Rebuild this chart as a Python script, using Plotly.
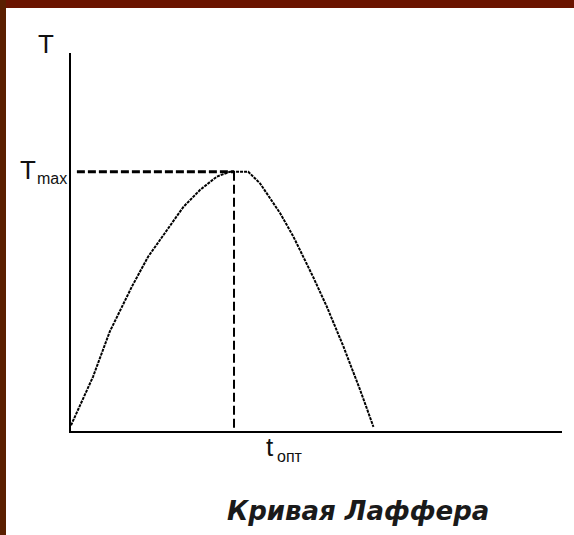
import plotly.graph_objects as go

# Laffer curve, values (x: tax rate, y: revenue, both on a 0-100 scale)
tax_rate = [0, 4.5, 7.9, 12.4, 15.7, 19.5, 22.9, 26.3, 29.7, 32.4, 36.1, 38.5, 42.6, 45.3, 49.3, 52.1, 55.5, 58.9, 61.6]
revenue = [1.5, 14.4, 26.3, 38.2, 46.1, 53.2, 59.3, 63.8, 67.3, 68.6, 68.6, 65.5, 57.6, 51.4, 40.8, 32.9, 22.3, 10.8, 1.1]
t_opt = 33.2
t_max = 68.6
dash_start = 1.2

W, H = 574, 535


def px(x):
    return x / W


def py(y):
    return 1 - y / H


fig = go.Figure()
fig.add_trace(go.Scatter(x=tax_rate, y=revenue, mode='lines',
                         line=dict(color='black', width=2, dash='3px,1px'), showlegend=False))
fig.add_trace(go.Scatter(x=[dash_start, t_opt], y=[t_max, t_max], mode='lines',
                         line=dict(color='black', width=3, dash='8px,3px'), showlegend=False))
fig.add_trace(go.Scatter(x=[t_opt, t_opt], y=[t_max, 0], mode='lines',
                         line=dict(color='black', width=2, dash='9px,4px'), showlegend=False))

txt = dict(family='Liberation Sans, Arial', color='#111111')
annotations = [
    dict(text='T', x=px(46), y=py(44), font=dict(size=26, **txt)),
    dict(text='T', x=px(28), y=py(170), font=dict(size=26, **txt)),
    dict(text='max', x=px(52), y=py(178), font=dict(size=16, **txt)),
    dict(text='t', x=px(270), y=py(447), font=dict(size=26, **txt)),
    dict(text='опт', x=px(290), y=py(456), font=dict(size=16, **txt)),
    dict(text='<b><i>Кривая Лаффера</i></b>', x=px(358), y=py(511),
         font=dict(size=26, family='DejaVu Sans', color='#1a1a1a')),
]
for a in annotations:
    a.update(xref='paper', yref='paper', xanchor='center', yanchor='middle', showarrow=False)

# maroon frame along the top and left edges
shapes = [
    dict(type='rect', xref='paper', yref='paper', x0=0, x1=1, y0=py(8), y1=1,
         fillcolor='#6b1400', line=dict(width=0), layer='above'),
    dict(type='rect', xref='paper', yref='paper', x0=0, x1=px(6), y0=0, y1=1,
         fillcolor='#5a1f00', line=dict(width=0), layer='above'),
]

fig.update_layout(
    width=W, height=H,
    margin=dict(l=0, r=0, t=0, b=0),
    paper_bgcolor='white', plot_bgcolor='white',
    xaxis=dict(domain=[71 / W, 562 / W], range=[0, 100], showgrid=False, zeroline=False,
               showticklabels=False, ticks='', showline=True, linecolor='black', linewidth=2),
    yaxis=dict(domain=[1 - 431 / H, 1 - 53 / H], range=[0, 100], showgrid=False, zeroline=False,
               showticklabels=False, ticks='', showline=True, linecolor='black', linewidth=2),
    annotations=annotations,
    shapes=shapes,
)

fig.write_html("out.html", config={'displayModeBar': False},
               post_script="document.body.style.margin = '0px';")
